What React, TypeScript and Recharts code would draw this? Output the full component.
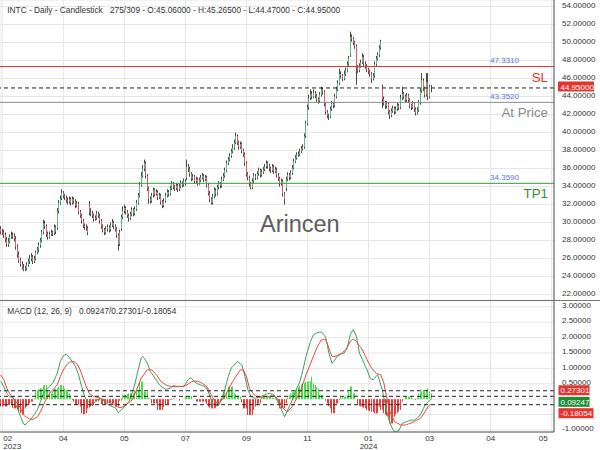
import React from 'react';
import { ComposedChart, Bar, Line, XAxis, YAxis, CartesianGrid, ReferenceLine } from 'recharts';

const OPENS = [
29.3,29.0,28.9,28.6,28.1,27.6,27.9,28.4,28.6,28.5,
28.2,27.3,26.4,25.8,25.4,25.0,24.8,24.9,25.3,25.7,
26.0,26.2,25.7,26.0,26.7,27.0,27.5,28.0,28.9,29.9,
29.6,28.7,28.4,28.7,28.9,28.8,29.5,29.4,31.3,32.2,
32.7,33.3,33.0,32.8,32.5,32.3,32.6,32.2,32.6,32.4,
31.9,32.1,31.2,30.8,30.2,29.7,29.5,29.4,31.9,31.1,
31.0,30.8,30.4,30.5,31.0,30.8,30.2,29.6,29.2,28.9,
29.3,29.5,29.2,29.7,30.0,29.6,29.3,28.6,27.6,29.3,
30.6,31.3,31.6,31.2,30.8,30.5,30.9,31.4,31.0,31.5,
32.2,33.0,34.2,35.2,36.0,36.6,35.2,33.8,32.6,32.4,
33.0,33.6,33.2,33.4,32.8,33.0,32.3,31.9,32.4,33.0,
33.4,33.2,33.8,34.3,34.0,33.8,34.1,33.7,34.0,34.4,
34.2,34.6,35.0,36.2,36.0,35.4,34.9,35.1,34.6,34.8,
34.4,34.7,35.0,35.2,34.8,35.0,34.2,33.3,32.6,32.2,
32.9,33.6,33.2,33.9,34.3,34.1,34.8,35.2,35.8,36.6,
37.0,37.4,37.9,38.3,38.9,39.6,38.9,38.4,38.7,38.0,
37.6,36.6,35.4,35.0,34.3,33.9,34.6,35.2,35.0,35.4,
35.8,35.3,35.6,35.9,36.2,36.6,36.3,36.0,35.8,36.2,
35.7,35.9,35.3,34.9,34.3,34.6,33.2,33.8,34.8,35.3,
35.0,35.5,36.1,36.8,37.2,37.5,37.6,37.9,38.2,38.4,
39.6,41.0,42.8,43.8,44.3,44.0,44.4,44.1,43.7,43.5,
44.2,44.8,44.5,43.2,42.3,41.9,41.8,42.6,43.2,43.0,
44.0,44.8,45.5,46.5,46.3,46.0,46.5,46.9,47.6,48.6,
50.6,50.4,50.0,49.6,47.2,46.9,47.4,47.8,48.4,47.6,
47.4,47.0,46.8,46.5,46.0,46.3,47.6,48.2,48.6,49.4,
45.0,43.7,43.3,43.0,43.2,42.3,41.9,42.4,42.7,42.3,
42.6,43.0,42.8,43.8,44.3,44.0,43.6,44.1,43.6,43.0,
42.8,43.2,42.6,42.2,42.5,43.3,44.6,45.8,44.9,44.2,
45.6,44.0,45.06];

const HIGHS = [
29.6,29.3,29.2,28.9,28.4,28.3,28.7,29.0,28.9,28.8,
28.5,27.6,26.8,26.1,25.7,25.4,25.2,25.6,26.0,26.4,
26.6,26.4,26.3,26.9,27.3,27.8,28.3,29.2,30.3,30.2,
29.8,29.0,29.0,29.2,29.1,29.8,29.7,31.6,32.5,33.0,
33.7,33.5,33.2,33.0,32.8,32.9,32.8,32.9,32.8,32.6,
32.4,32.3,31.4,31.0,30.4,29.9,29.8,29.6,32.4,31.6,
31.3,31.0,30.8,31.3,31.2,31.0,30.4,29.8,29.4,29.6,
29.8,29.7,30.0,30.4,30.2,29.8,29.5,28.8,29.2,30.9,
31.8,32.0,31.8,31.4,31.0,31.2,31.7,31.6,31.8,32.5,
33.3,34.5,35.6,36.4,37.0,36.8,35.4,34.0,32.9,33.3,
33.9,33.8,33.7,33.6,33.3,33.2,32.5,32.7,33.3,33.7,
33.6,34.1,34.6,34.5,34.2,34.4,34.3,34.3,34.7,34.6,
34.9,34.8,37.0,36.5,36.2,35.6,35.4,35.3,35.1,35.0,
35.0,35.3,35.5,35.4,35.3,35.2,34.4,33.5,32.8,33.2,
33.9,33.8,34.2,34.6,34.5,35.1,35.5,36.1,36.9,37.3,
37.7,38.2,38.7,39.2,40.0,39.8,39.1,39.0,38.9,38.2,
37.8,36.8,35.6,35.2,34.5,34.9,35.5,35.4,35.7,36.1,
36.0,35.9,36.2,36.5,36.9,36.8,36.5,36.2,36.5,36.4,
36.2,36.1,35.5,35.1,34.9,34.8,33.4,35.1,35.6,35.5,
35.8,36.4,37.1,37.5,37.8,37.9,38.2,38.5,38.7,39.9,
41.3,43.1,44.2,44.8,44.6,44.8,44.6,44.3,43.9,44.5,
45.1,45.0,44.7,43.4,42.5,42.1,42.9,43.5,43.4,44.3,
45.1,45.8,47.1,46.8,46.5,46.9,47.2,47.9,48.5,51.2,
50.9,50.6,50.2,49.8,47.5,47.7,48.1,48.8,48.6,47.9,
47.6,47.2,47.0,46.7,46.6,47.9,48.5,48.9,49.7,50.3,
45.3,44.0,43.5,43.5,43.4,42.5,42.7,43.0,42.9,42.9,
43.3,43.2,44.2,45.1,44.5,44.2,44.4,44.3,43.8,43.2,
43.5,43.4,42.8,42.8,43.6,44.9,46.6,46.0,45.1,46.6,
46.6,45.3,45.265];

const LOWS = [
28.7,28.6,28.3,27.8,27.3,27.3,27.7,28.2,28.2,27.9,
27.0,26.1,25.5,25.1,24.8,24.6,24.6,24.7,25.1,25.4,
25.7,25.4,25.5,25.8,26.5,26.7,27.2,27.8,28.7,29.3,
28.4,28.1,28.2,28.5,28.5,28.6,28.7,29.2,31.0,32.0,
32.5,32.7,32.5,32.2,32.0,32.1,31.9,32.0,32.1,31.6,
31.7,30.9,30.5,29.9,29.4,29.2,29.1,28.6,30.8,30.7,
30.5,30.1,30.2,30.3,30.5,29.9,29.3,28.9,28.6,28.7,
29.0,28.9,29.0,29.5,29.3,29.0,28.3,26.9,27.4,29.1,
30.4,31.0,30.9,30.5,30.1,30.3,30.7,30.7,30.8,31.3,
32.0,32.8,34.0,35.0,35.7,34.9,33.5,32.1,32.1,32.2,
32.8,32.9,33.0,32.5,32.6,32.0,31.6,31.7,32.2,32.8,
32.9,33.0,33.6,33.7,33.5,33.6,33.4,33.5,33.8,33.9,
34.0,34.1,34.7,35.6,35.1,34.6,34.7,34.3,34.4,34.1,
34.2,34.5,34.8,34.5,34.6,33.9,33.0,32.3,32.0,32.0,
32.7,32.9,33.0,33.7,33.8,33.9,34.6,35.0,35.6,36.4,
36.8,37.2,37.7,38.1,38.7,38.6,38.1,38.2,37.7,37.3,
36.3,35.1,34.7,34.0,33.7,33.7,34.4,34.7,34.8,35.2,
35.0,35.1,35.4,35.7,36.0,36.0,35.7,35.5,35.6,35.4,
35.5,35.0,34.6,34.0,34.1,32.9,32.0,33.5,34.6,34.7,
34.8,35.3,35.9,36.6,37.0,37.3,37.4,37.7,38.0,38.2,
39.4,40.8,42.5,43.6,43.7,43.8,43.8,43.4,43.2,43.3,
44.0,44.2,42.9,42.0,41.6,41.4,41.6,42.4,42.7,42.8,
43.8,44.6,45.3,46.0,45.7,45.8,46.3,46.7,47.4,48.4,
50.1,49.7,49.3,45.3,46.6,46.7,47.2,47.6,47.3,47.1,
46.7,46.5,46.2,45.5,45.8,46.1,47.4,48.0,48.4,49.2,
42.7,43.0,42.6,42.7,42.0,41.5,41.7,42.2,42.0,42.1,
42.4,42.5,42.6,43.6,43.7,43.3,43.4,43.3,42.7,42.5,
42.6,42.3,41.9,42.0,42.3,43.1,44.4,44.6,43.9,44.0,
43.6,43.8,44.47];

const CLOSES = [
29.0,28.9,28.6,28.1,27.6,27.9,28.4,28.6,28.5,28.2,
27.3,26.4,25.8,25.4,25.0,24.8,24.9,25.3,25.7,26.0,
26.2,25.7,26.0,26.7,27.0,27.5,28.0,28.9,29.9,29.6,
28.7,28.4,28.7,28.9,28.8,29.5,29.0,31.3,32.2,32.7,
33.3,33.0,32.8,32.5,32.3,32.6,32.2,32.6,32.4,31.9,
32.1,31.2,30.8,30.2,29.7,29.5,29.4,28.9,31.1,31.0,
30.8,30.4,30.5,31.0,30.8,30.2,29.6,29.2,28.9,29.3,
29.5,29.2,29.7,30.0,29.6,29.3,28.6,27.6,28.9,30.6,
31.3,31.6,31.2,30.8,30.5,30.9,31.4,31.0,31.5,32.2,
33.0,34.2,35.2,36.0,36.6,35.2,33.8,32.6,32.4,33.0,
33.6,33.2,33.4,32.8,33.0,32.3,31.9,32.4,33.0,33.4,
33.2,33.8,34.3,34.0,33.8,34.1,33.7,34.0,34.4,34.2,
34.6,34.4,36.2,36.0,35.4,34.9,35.1,34.6,34.8,34.4,
34.7,35.0,35.2,34.8,35.0,34.2,33.3,32.6,32.2,32.9,
33.6,33.2,33.9,34.3,34.1,34.8,35.2,35.8,36.6,37.0,
37.4,37.9,38.3,38.9,39.6,38.9,38.4,38.7,38.0,37.6,
36.6,35.4,35.0,34.3,33.9,34.6,35.2,35.0,35.4,35.8,
35.3,35.6,35.9,36.2,36.6,36.3,36.0,35.8,36.2,35.7,
35.9,35.3,34.9,34.3,34.6,33.2,32.6,34.8,35.3,35.0,
35.5,36.1,36.8,37.2,37.5,37.6,37.9,38.2,38.4,39.6,
41.0,42.8,43.8,44.3,44.0,44.4,44.1,43.7,43.5,44.2,
44.8,44.5,43.2,42.3,41.9,41.8,42.6,43.2,43.0,44.0,
44.8,45.5,46.5,46.3,46.0,46.5,46.9,47.6,48.2,50.6,
50.4,50.0,49.6,47.2,46.9,47.4,47.8,48.4,47.6,47.4,
47.0,46.8,46.5,46.0,46.3,47.6,48.2,48.6,49.4,50.1,
43.7,43.3,43.0,43.2,42.3,41.9,42.4,42.7,42.3,42.6,
43.0,42.8,43.8,44.3,44.0,43.6,44.1,43.6,43.0,42.8,
43.2,42.6,42.2,42.5,43.3,44.6,45.8,44.9,44.2,45.6,
44.0,45.06,44.95];

const MACD = [
.58,.50,.40,.30,.19,.13,.08,.07,.06,-.05,
-.19,-.32,-.45,-.57,-.70,-.81,-.84,-.77,-.73,-.70,
-.64,-.57,-.50,-.42,-.35,-.22,-.08,.05,.19,.26,
.32,.37,.41,.47,.52,.62,.73,.84,1.03,1.22,
1.32,1.41,1.44,1.46,1.41,1.35,1.28,1.21,1.13,1.06,
.93,.79,.60,.41,.25,.08,0,-.08,-.10,-.12,
-.13,-.14,-.08,-.03,0,.03,0,-.03,-.08,-.14,
-.17,-.19,-.22,-.24,-.26,-.27,-.35,-.44,-.40,-.35,
-.30,-.24,-.19,-.13,-.08,.05,.19,.35,.52,.73,
.95,1.14,1.33,1.39,1.33,1.25,1.17,1.04,.90,.83,
.76,.68,.61,.53,.46,.42,.38,.35,.32,.33,
.34,.35,.40,.44,.43,.42,.41,.41,.41,.41,
.41,.49,.57,.64,.70,.67,.63,.58,.52,.50,
.48,.46,.44,.43,.41,.33,.24,.10,-.03,-.13,
-.22,-.22,-.20,-.19,-.08,.03,.19,.35,.54,.73,
.87,1.01,1.06,1.11,1.17,1.22,1.19,1.15,1.11,.92,
.73,.52,.30,.19,.08,.06,.04,.03,.05,.06,
.08,.10,.12,.14,.16,.18,.19,.17,.16,.14,
.06,-.03,-.13,-.24,-.35,-.46,-.57,-.46,-.35,-.24,
-.13,-.03,.10,.24,.35,.46,.57,.76,.95,1.17,
1.39,1.55,1.72,1.88,1.99,2.09,2.12,2.15,2.17,2.18,
2.18,2.14,2.07,1.99,1.75,1.50,1.33,1.17,1.22,1.28,
1.36,1.44,1.45,1.47,1.48,1.50,1.58,1.66,1.88,2.09,
2.18,2.26,2.15,2.04,1.77,1.50,1.39,1.28,1.17,1.06,
.95,.82,.68,.65,.63,.68,.74,.79,.63,.46,
.30,.05,-.19,-.40,-.62,-.76,-.90,-.98,-1.06,-1.05,
-1.03,-1.01,-.90,-.79,-.77,-.75,-.73,-.71,-.70,-.68,
-.68,-.68,-.65,-.61,-.57,-.49,-.41,-.30,-.19,-.14,
-.10,-.05,0];

const SIGNAL = [
.79,.71,.63,.49,.35,.26,.17,.10,.03,-.02,
-.08,-.15,-.22,-.30,-.41,-.52,-.56,-.59,-.62,-.64,
-.65,-.66,-.63,-.60,-.57,-.49,-.41,-.30,-.19,-.08,
.03,.11,.19,.25,.30,.35,.41,.46,.60,.73,
.84,.95,1.03,1.11,1.16,1.20,1.21,1.22,1.22,1.18,
1.14,1.05,.95,.82,.68,.55,.41,.30,.19,.15,
.12,.08,.07,.06,.05,.03,.01,-.01,-.03,-.06,
-.08,-.10,-.12,-.14,-.16,-.20,-.24,-.27,-.27,-.27,
-.25,-.22,-.19,-.15,-.11,-.07,-.03,.08,.19,.30,
.43,.55,.68,.75,.82,.88,.95,.95,.95,.95,
.90,.84,.79,.72,.64,.57,.54,.50,.47,.44,
.43,.42,.41,.41,.41,.41,.41,.41,.41,.41,
.43,.44,.46,.50,.53,.57,.58,.58,.59,.58,
.56,.54,.52,.48,.45,.41,.32,.23,.14,.04,
-.06,-.11,-.11,-.10,-.08,-.03,.03,.08,.19,.30,
.41,.49,.57,.65,.73,.80,.88,.95,.95,.95,
.84,.73,.54,.35,.28,.21,.14,.11,.08,.05,
.06,.06,.07,.08,.08,.09,.09,.10,.10,.09,
.07,.03,-.04,-.11,-.19,-.27,-.35,-.38,-.41,-.35,
-.30,-.24,-.15,-.06,.03,.14,.24,.35,.50,.64,
.79,.91,1.04,1.16,1.28,1.41,1.53,1.66,1.75,1.84,
1.93,1.93,1.93,1.93,1.80,1.66,1.52,1.39,1.39,1.39,
1.41,1.42,1.44,1.48,1.52,1.56,1.60,1.69,1.78,1.88,
1.92,1.95,1.92,1.88,1.81,1.74,1.67,1.60,1.49,1.39,
1.28,1.19,1.10,1.01,.95,.90,.84,.82,.81,.79,
.66,.52,.28,.03,-.19,-.41,-.52,-.62,-.73,-.76,
-.79,-.81,-.84,-.84,-.84,-.84,-.83,-.81,-.79,-.77,
-.75,-.73,-.70,-.67,-.65,-.62,-.55,-.48,-.41,-.32,
-.24,-.20,-.16];

const HIST = [
-.24,-.24,-.22,-.24,-.24,-.19,-.19,-.19,-.28,-.30,
-.30,-.32,-.40,-.46,-.50,-.48,-.30,-.24,-.19,-.14,
-.08,-.08,.02,.24,.28,.33,.35,.35,.44,.46,
.46,.30,.24,.19,.26,.33,.35,.35,.40,.46,
.46,.44,.35,.30,.24,.19,.08,-.03,-.08,-.19,
-.19,-.19,-.24,-.46,-.50,-.48,-.46,-.30,-.28,-.24,
-.22,-.19,-.08,-.08,-.08,-.03,-.16,-.16,-.16,-.16,
-.14,-.14,-.14,-.14,-.14,-.24,-.24,-.24,-.05,-.05,
.14,.14,.14,.16,.19,.19,.19,.19,.30,.30,
.30,.57,.57,.57,.24,.24,.24,.03,.03,-.14,
-.14,-.14,-.14,-.35,-.35,-.35,-.35,-.25,-.16,-.16,
-.16,-.02,-.02,.03,0,0,0,-.05,0,0,
0,.10,.10,.10,.10,.10,0,0,-.08,-.08,
-.08,-.08,-.08,-.08,-.08,-.15,-.24,-.28,-.30,-.30,
-.30,-.28,-.24,-.19,-.05,.05,.24,.24,.24,.41,
.41,.41,.41,.19,.15,.12,.10,.08,-.10,-.30,
-.30,-.30,-.52,-.52,-.52,-.52,-.35,-.24,-.20,-.14,
-.14,.08,.08,.08,.08,.08,.08,.08,.05,.03,
.03,.03,-.15,-.30,-.30,-.30,-.30,-.14,.05,.12,
.19,.22,.26,.30,.35,.40,.44,.48,.52,.52,
.57,.57,.57,.57,.73,.52,.46,.40,.35,.14,
.14,.14,0,-.05,-.14,-.22,-.30,-.46,-.46,-.46,
-.14,-.14,-.03,.08,.08,.08,.08,.08,.25,.41,
.41,.19,.19,0,-.19,-.22,-.24,-.26,-.28,-.30,
-.35,-.37,-.39,-.41,-.41,-.46,-.46,-.46,-.24,-.35,
-.35,-.46,-.50,-.54,-.57,-.79,-.79,-.79,-.57,-.50,
-.45,-.40,-.35,-.08,0,.08,.08,.08,.08,.08,
.02,0,-.03,.05,.19,.22,.26,.30,.24,.30,
.35,.24,.19];

const TOTAL_SLOTS = 363;
const TICK_IDX = [1, 41, 81, 121, 161, 201, 241, 281, 321, 361];
const MONTH_LABELS = ['02', '04', '05', '07', '09', '11', '01', '03', '04', '05'];
const YEAR_LABELS = ['2023', '', '', '', '', '', '2024', '', '', ''];
const PRICE_TICKS = [22, 24, 26, 28, 30, 32, 34, 36, 38, 40, 42, 44, 46, 48, 50, 52, 54];
const MACD_TICKS = [-1, -0.5, 0, 0.5, 1, 1.5, 2, 2.5, 3];
const MACD_TICKS_COVERED = [0, -0.5];

const SL_LEVEL = 47.331;
const LAST_PRICE = 44.95;
const AT_PRICE_LEVEL = 43.352;
const TP1_LEVEL = 34.359;
const MACD_VALUE = 0.09247;
const SIGNAL_VALUE = 0.27301;
const HIST_VALUE = -0.18054;

const rows = Array.from({ length: TOTAL_SLOTS }, (_, i) =>
  i < CLOSES.length
    ? {
        i,
        range: [LOWS[i], HIGHS[i]],
        o: OPENS[i],
        h: HIGHS[i],
        l: LOWS[i],
        c: CLOSES[i],
        macd: MACD[i],
        signal: SIGNAL[i],
        hist: HIST[i],
      }
    : { i }
);

const FONT = '"Liberation Sans", Arial, sans-serif';
const BLUE = '#5577e0';
const UP = '#5cbb84';
const DOWN = '#dd5f74';

const Candle = (p: any) => {
  const { x, y, width, height, payload } = p;
  if (!payload || payload.h == null) return null;
  const top = Math.min(y, y + height);
  const bot = Math.max(y, y + height);
  const span = payload.h - payload.l || 1;
  const yOf = (v: number) => top + ((payload.h - v) / span) * (bot - top);
  const px = Math.round(x + width / 2 - 0.5);
  const up = payload.c >= payload.o;
  const y1 = yOf(Math.max(payload.o, payload.c));
  const y2 = yOf(Math.min(payload.o, payload.c));
  return (
    <g>
      <rect x={px} y={top} width={1} height={bot - top} fill="#4a4a4a" />
      <rect x={px} y={y1} width={1} height={Math.max(1, y2 - y1)} fill={up ? UP : DOWN} />
    </g>
  );
};

const HistBar = (p: any) => {
  const { x, y, width, height, payload } = p;
  if (!payload || payload.hist == null || !height) return null;
  const top = Math.min(y, y + height);
  const h = Math.abs(height);
  const px = Math.round(x + width / 2 - 0.5);
  return <rect x={px} y={top} width={1} height={h} fill={payload.hist >= 0 ? '#45e045' : '#f03a3a'} />;
};

const PriceTick = (p: any) => {
  const { x, y, payload } = p;
  return (
    <text x={x} y={y + 1.2} fontSize={8} fill="#333" fontFamily={FONT}>
      {Number(payload.value).toFixed(5)}
    </text>
  );
};

const MacdTick = (p: any) => {
  const { x, y, payload } = p;
  if (MACD_TICKS_COVERED.includes(payload.value)) return null;
  return (
    <text x={x} y={y + 1.2} fontSize={8} fill="#333" fontFamily={FONT}>
      {Number(payload.value).toFixed(5)}
    </text>
  );
};

const MonthTick = (p: any) => {
  const { x, y, payload } = p;
  const k = TICK_IDX.indexOf(payload.value);
  if (k < 0) return null;
  let anchor: any = 'middle';
  let tx = x;
  if (k === 0) { anchor = 'start'; tx = x + 1; }
  if (k === TICK_IDX.length - 1) { anchor = 'end'; tx = x - 4; }
  return (
    <g>
      <text x={tx} y={y + 9} fontSize={8} fill="#333" textAnchor={anchor} fontFamily={FONT}>{MONTH_LABELS[k]}</text>
      {YEAR_LABELS[k] ? (
        <text x={tx} y={y + 16.5} fontSize={8} fill="#333" textAnchor={anchor} fontFamily={FONT}>{YEAR_LABELS[k]}</text>
      ) : null}
    </g>
  );
};

const levelLabel = (value: number, big: string, bigColor: string) => (props: any) => {
  const vb = props.viewBox || {};
  const right = vb.x + vb.width;
  const ly = vb.y;
  return (
    <g>
      <text x={right - 35} y={ly - 3.5} fontSize={8} fill={BLUE} textAnchor="end" fontFamily={FONT}>{value.toFixed(4)}</text>
      <text x={right - 6} y={ly + 15} fontSize={13.3} fill={bigColor} textAnchor="end" fontFamily={FONT}>{big}</text>
    </g>
  );
};

const priceBox = (props: any) => {
  const vb = props.viewBox || {};
  const right = vb.x + vb.width;
  const ly = vb.y;
  return (
    <g>
      <rect x={right + 4} y={ly - 6.5} width={36} height={10} fill="#e3342f" />
      <text x={right + 6.5} y={ly + 1.8} fontSize={8} fill="#fff" fontFamily={FONT}>{LAST_PRICE.toFixed(5)}</text>
    </g>
  );
};

const macdBox = (value: number, color: string, shift: number) => (props: any) => {
  const vb = props.viewBox || {};
  const right = vb.x + vb.width;
  const ly = vb.y + shift;
  return (
    <g>
      <rect x={right + 4.5} y={ly - 5} width={value < 0 ? 35 : 31} height={10} fill={color} />
      <text x={right + 6.5} y={ly + 3} fontSize={8} fill="#fff" fontFamily={FONT}>{value.toFixed(5)}</text>
    </g>
  );
};

export default function App() {
  const n = CLOSES.length - 1;
  return (
    <div style={{ position: 'absolute', left: 0, top: 0, width: 600, height: 450, background: '#fff', fontFamily: FONT }}>
      <div style={{ position: 'absolute', left: 0, top: 0 }}>
        <ComposedChart width={600} height={300} data={rows} margin={{ top: 0, right: 0, bottom: 0, left: 0 }}>
          <CartesianGrid stroke="#e6e6e6" />
          <XAxis dataKey="i" type="category" hide ticks={TICK_IDX} interval={0} />
          <YAxis
            orientation="right"
            width={46}
            type="number"
            domain={[21.4, 54.72]}
            allowDataOverflow
            ticks={PRICE_TICKS}
            interval={0}
            axisLine={{ stroke: '#555' }}
            tickLine={false}
            tick={<PriceTick />}
          />
          <Bar dataKey="range" shape={<Candle />} isAnimationActive={false} />
          <ReferenceLine y={SL_LEVEL} stroke="#e2382f" strokeWidth={1} label={levelLabel(SL_LEVEL, 'SL', '#e8302a')} />
          <ReferenceLine y={LAST_PRICE} stroke="#222" strokeDasharray="4 3" label={priceBox} />
          <ReferenceLine y={AT_PRICE_LEVEL} stroke="#8a8a8a" label={levelLabel(AT_PRICE_LEVEL, 'At Price', '#8a8a8a')} />
          <ReferenceLine y={TP1_LEVEL} stroke="#3a9a3a" label={levelLabel(TP1_LEVEL, 'TP1', '#2f8f2f')} />
        </ComposedChart>
      </div>
      <div style={{ position: 'absolute', left: 0, top: 300, width: 600, height: 1, background: '#777' }} />
      <div style={{ position: 'absolute', left: 0, top: 301 }}>
        <ComposedChart width={600} height={149} data={rows} margin={{ top: 0, right: 0, bottom: 0, left: 0 }}>
          <CartesianGrid stroke="#e6e6e6" />
          <XAxis
            dataKey="i"
            type="category"
            ticks={TICK_IDX}
            interval={0}
            height={18}
            axisLine={{ stroke: '#555' }}
            tickLine={false}
            tickSize={0}
            tickMargin={0}
            tick={<MonthTick />}
          />
          <YAxis
            orientation="right"
            width={46}
            type="number"
            domain={[-1.068, 3.19]}
            allowDataOverflow
            ticks={MACD_TICKS}
            interval={0}
            axisLine={{ stroke: '#555' }}
            tickLine={false}
            tick={<MacdTick />}
          />
          <Bar dataKey="hist" shape={<HistBar />} isAnimationActive={false} />
          <Line dataKey="macd" stroke="#3b9d5a" strokeWidth={1} dot={false} isAnimationActive={false} />
          <Line dataKey="signal" stroke="#e8453c" strokeWidth={1} dot={false} isAnimationActive={false} />
          <ReferenceLine y={SIGNAL_VALUE} stroke="#222" strokeDasharray="4 3" label={macdBox(SIGNAL_VALUE, '#e8322e', -0.5)} />
          <ReferenceLine y={MACD_VALUE} stroke="#222" strokeDasharray="4 3" label={macdBox(MACD_VALUE, '#1f8c34', 5.5)} />
          <ReferenceLine y={HIST_VALUE} stroke="#222" strokeDasharray="4 3" label={macdBox(HIST_VALUE, '#e8322e', 8.5)} />
        </ComposedChart>
      </div>
      <svg width={600} height={450} style={{ position: 'absolute', left: 0, top: 0, pointerEvents: 'none' }}>
        <text x={7.3} y={13.3} fontSize={8.3} fill="#333" fontFamily={FONT}>INTC - Daily - Candlestick</text>
        <text x={110} y={13.3} fontSize={8.3} fill="#333" fontFamily={FONT}>
          {`${n + 1 - 8}/309 - O:${OPENS[n].toFixed(5)} - H:${HIGHS[n].toFixed(5)} - L:${LOWS[n].toFixed(5)} - C:${CLOSES[n].toFixed(5)}`}
        </text>
        <text x={260} y={231.7} fontSize={23.5} fill="#5e5e5e" fontFamily={FONT}>Arincen</text>
        <text x={7.3} y={314} fontSize={8.3} fill="#333" fontFamily={FONT}>MACD (12, 26, 9)</text>
        <text x={79} y={314} fontSize={8.3} fill="#333" fontFamily={FONT}>
          {`${MACD_VALUE.toFixed(5)}/${SIGNAL_VALUE.toFixed(5)}/${HIST_VALUE.toFixed(5)}`}
        </text>
      </svg>
    </div>
  );
}
